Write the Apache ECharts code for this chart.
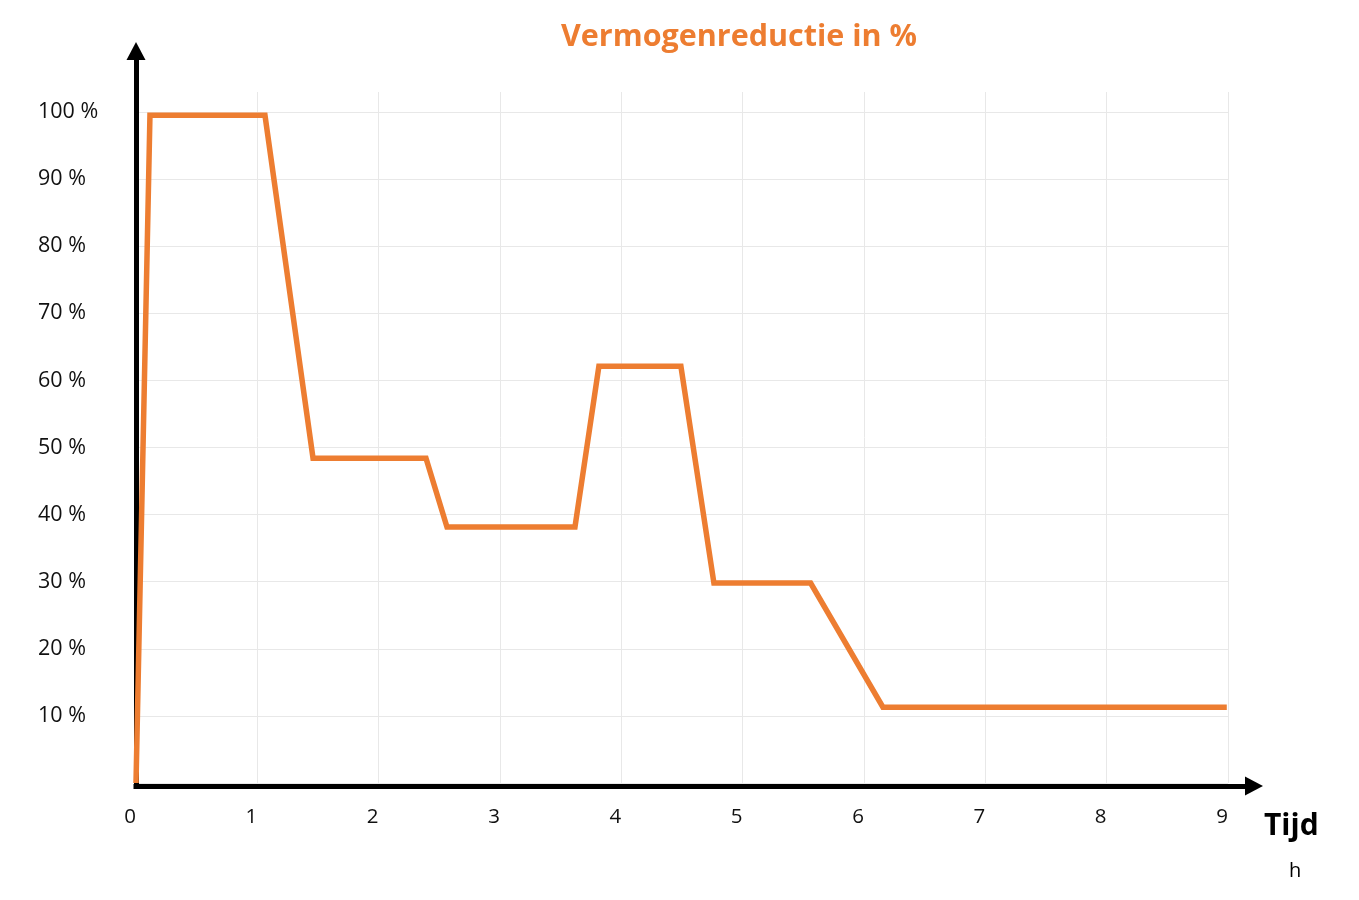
<!DOCTYPE html>
<html><head><meta charset="utf-8">
<script src="https://cdn.jsdelivr.net/npm/echarts@6/dist/echarts.min.js"></script>
<style>html,body{margin:0;padding:0;background:#fff}#c{width:1359px;height:900px}</style>
</head><body><div id="c"></div>
<script>
// ---- data ----
const chartTitle = 'Vermogenreductie in %';
const xAxisName = 'Tijd';
const xAxisUnit = 'h';
const timeH = [0, 0.115, 1.063, 1.459, 2.39, 2.563, 3.618, 3.815, 4.491, 4.763, 5.56, 6.156, 8.99];
const reductionPct = [0, 99.5, 99.5, 48.4, 48.4, 38.15, 38.15, 62.1, 62.1, 29.8, 29.8, 11.3, 11.3];
const xMin = 0, xMax = 9, xStep = 1;
const yMin = 0, yMax = 100, yStep = 10;

const ORANGE = '#ED7D31';
const FONT = 'Open Sans';
const GRID_COLOR = '#e8e8e8';

const chart = echarts.init(document.getElementById('c'), null, {renderer: 'canvas'});
const seriesData = timeH.map((t, i) => [t, reductionPct[i]]);

const hidden = {show: false};
chart.setOption({
  animation: false,
  backgroundColor: '#fff',
  title: [
    {text: chartTitle, left: 561, top: 22, padding: 0,
     textStyle: {color: ORANGE, fontFamily: FONT, fontWeight: 'bold', fontSize: 30.5}},
    {text: xAxisName, left: 1264, top: 811, padding: 0,
     textStyle: {color: '#000', fontFamily: FONT, fontWeight: 'bold', fontSize: 30}},
    {text: xAxisUnit, left: 1289, top: 861, padding: 0,
     textStyle: {color: '#000', fontFamily: FONT, fontWeight: 'normal', fontSize: 20}}
  ],
  grid: [
    {left: 136, right: 131, top: 112, bottom: 117},   // data grid
    {left: 136, right: 131, top: 92, bottom: 117},    // vertical grid lines
    {left: 136, right: 105, top: 51, bottom: 114}     // arrow axes
  ],
  xAxis: [
    {gridIndex: 0, type: 'value', min: xMin, max: xMax, interval: xStep,
     axisLine: hidden, axisTick: hidden, splitLine: hidden,
     axisLabel: {show: true, margin: 24, color: '#111', fontFamily: FONT, fontSize: 20.5,
                 padding: [0, 12, 0, 0], showMinLabel: true, showMaxLabel: true}},
    {gridIndex: 1, type: 'value', min: xMin, max: xMax, interval: xStep,
     axisLine: hidden, axisTick: hidden, axisLabel: hidden,
     splitLine: {show: true, lineStyle: {color: GRID_COLOR, width: 1}}},
    {gridIndex: 2, type: 'value', min: 0, max: 1,
     axisLine: {show: true, symbol: ['none', 'triangle'], symbolSize: [19, 18],
                lineStyle: {color: '#000', width: 5, cap: 'square'}},
     axisTick: hidden, axisLabel: hidden, splitLine: hidden}
  ],
  yAxis: [
    {gridIndex: 0, type: 'value', min: yMin, max: yMax, interval: yStep,
     axisLine: hidden, axisTick: hidden,
     splitLine: {show: true, lineStyle: {color: GRID_COLOR, width: 1}},
     axisLabel: {show: true, margin: 98, align: 'left', color: '#111', fontFamily: FONT, fontSize: 21.5,
                 formatter: v => v === 0 ? '' : v + ' %'}},
    {gridIndex: 1, type: 'value', min: 0, max: 1, show: false},
    {gridIndex: 2, type: 'value', min: 0, max: 1,
     axisLine: {show: true, symbol: ['none', 'triangle'], symbolSize: [19, 18],
                lineStyle: {color: '#000', width: 5, cap: 'square'}},
     axisTick: hidden, axisLabel: hidden, splitLine: hidden}
  ],
  series: [{
    type: 'line', xAxisIndex: 0, yAxisIndex: 0, data: seriesData,
    showSymbol: false, clip: false, z: 3,
    lineStyle: {color: ORANGE, width: 5.5, join: 'miter'}
  }]
});
</script></body></html>
